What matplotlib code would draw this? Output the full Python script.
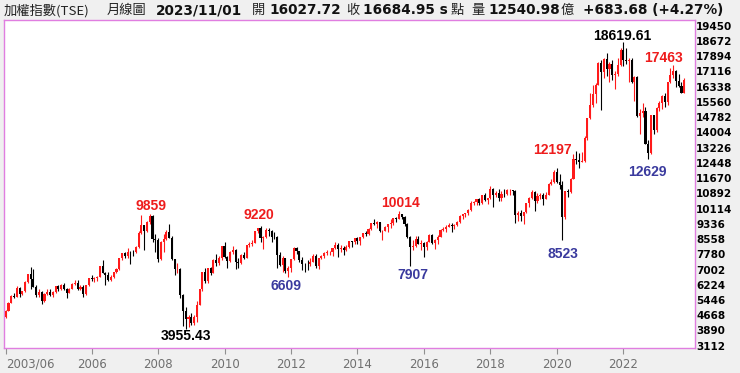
import numpy as np
import pandas as pd
import matplotlib
matplotlib.use("Agg")
import matplotlib.pyplot as plt

# ── monthly candles, 2003/06 .. 2023/11 ─────────────────────────────────
months = pd.period_range("2003-06", "2023-11", freq="M")

opens = [
    4555, 4872, 5318, 5650, 5611, 6045, 5771,  # 2003
    5890, 6375, 6750, 6522, 6117, 5710, 5840, 5420, 5765, 5845, 5705, 5844,  # 2004
    6140, 5994, 6207, 6006, 5819, 6012, 6241, 6312, 6033, 6118, 5764, 6203,  # 2005
    6548, 6532, 6561, 6613, 7171, 6846, 6705, 6455, 6612, 6884, 7021, 7567,  # 2006
    7823, 7699, 7901, 7884, 7875, 8145, 8883, 9287, 8982, 9411, 9711, 8586,  # 2007
    8506, 7521, 8412, 8572, 8920, 8619, 7523, 7024, 7046, 5719, 4870, 4460,  # 2008
    4591, 4248, 4557, 5210, 5992, 6890, 6432, 7078, 6825, 7509, 7340, 7582,  # 2009
    8188, 7640, 7436, 7920, 8004, 7374, 7329, 7760, 7616, 8238, 8287, 8372,  # 2010
    8973, 9145, 8600, 8683, 9007, 8989, 8652, 8644, 7741, 7225, 7588, 6904,  # 2011
    7072, 7517, 8121, 7933, 7501, 7301, 7296, 7270, 7397, 7715, 7166, 7580,  # 2012
    7700, 7850, 7907, 7919, 8093, 8254, 8062, 8108, 8022, 8173, 8450, 8407,  # 2013
    8612, 8462, 8640, 8849, 8791, 9075, 9393, 9315, 9436, 8966, 8974, 9187,  # 2014
    9307, 9361, 9622, 9586, 9820, 9701, 9323, 8665, 8174, 8181, 8554, 8320,  # 2015
    8338, 8145, 8411, 8744, 8377, 8535, 8667, 9009, 9069, 9166, 9290, 9240,  # 2016
    9254, 9448, 9750, 9812, 9872, 10040, 10395, 10427, 10585, 10384, 10794, 10560,  # 2017
    10643, 11103, 10815, 10919, 10657, 10875, 10837, 11057, 11064, 10997, 9802, 9888,  # 2018
    9727, 9932, 10389, 10641, 10968, 10498, 10731, 10824, 10618, 10830, 11358, 11489,  # 2019
    11997, 11495, 11292, 9708, 10992, 10942, 11621, 12665, 12592, 12516, 12546, 13722,  # 2020
    14732, 15410, 15953, 16431, 17567, 17068, 17755, 17247, 17490, 16935, 16987, 17428,  # 2021
    18219, 17674, 17652, 17693, 16592, 16807, 14826, 15000, 15095, 13425, 12950, 14880,  # 2022
    14138, 15265, 15504, 15868, 15579, 16579, 16916, 17145, 16635, 16353, 16028,  # 2023
]
highs = [
    4950, 5330, 5680, 5800, 6182, 6100, 5900,
    6400, 6750, 7135, 7034, 6190, 6000, 5900, 5800, 6000, 6000, 5900, 6150,
    6200, 6250, 6300, 6050, 6050, 6300, 6480, 6450, 6200, 6200, 6230, 6580,
    6740, 6640, 6650, 7200, 7474, 6900, 6900, 6700, 6900, 7100, 7600, 7850,
    7900, 8100, 7950, 8000, 8200, 8950, 9807, 9300, 9500, 9859, 9800, 8800,
    8600, 8450, 8800, 9000, 9309, 8700, 7550, 7350, 7100, 5750, 5100, 4700,
    4800, 4700, 5400, 6000, 6900, 7084, 7100, 7150, 7550, 7800, 7700, 8200,
    8395, 7700, 7950, 8190, 8050, 7600, 7800, 7900, 8250, 8400, 8500, 8990,
    9145, 9220, 8700, 9100, 9100, 9000, 8900, 8700, 7900, 7700, 7600, 7200,
    7550, 8170, 8170, 7950, 7650, 7350, 7500, 7600, 7800, 7800, 7600, 7750,
    7900, 8000, 7950, 8100, 8400, 8350, 8250, 8200, 8250, 8450, 8450, 8620,
    8650, 8650, 8850, 8950, 9100, 9400, 9593, 9500, 9450, 9000, 9200, 9300,
    9600, 9650, 9700, 10014, 9850, 9750, 9400, 8700, 8500, 8700, 8700, 8500,
    8400, 8450, 8800, 8800, 8550, 8750, 9050, 9150, 9250, 9400, 9400, 9350,
    9500, 9800, 9850, 9900, 10100, 10500, 10500, 10600, 10650, 10800, 10900, 10650,
    11270, 11150, 11000, 11100, 11000, 11100, 11100, 11100, 11080, 11050, 10000, 10050,
    9950, 10400, 10700, 11050, 11000, 10900, 10900, 10900, 10950, 11400, 11600, 12100,
    12197, 11900, 11500, 11000, 11100, 11700, 12900, 13031, 12950, 13000, 13800, 14760,
    16000, 16400, 16500, 17600, 17700, 17800, 18034, 17600, 17700, 17150, 17800, 18300,
    18620, 18300, 17800, 17800, 16900, 16900, 15200, 15500, 15300, 13600, 14900, 14900,
    15300, 15600, 15900, 16000, 16600, 17300, 17463, 17200, 17000, 16600, 16800,
]
lows = [
    4530, 4860, 5300, 5530, 5600, 5600, 5700,
    5880, 6300, 6020, 6110, 5600, 5580, 5255, 5320, 5700, 5650, 5600, 5800,
    5900, 5950, 5980, 5565, 5780, 6000, 6200, 5950, 5950, 5618, 5700, 6150,
    6400, 6380, 6420, 6600, 6800, 6230, 6400, 6400, 6550, 6850, 7000, 7500,
    7570, 7600, 7300, 7700, 7850, 8100, 8800, 7987, 8900, 9350, 8400, 7900,
    7384, 7500, 7900, 8500, 8600, 7500, 6710, 6800, 5530, 4110, 3955, 4089,
    4150, 4164, 4300, 5200, 5900, 6300, 6300, 6700, 6800, 7200, 7250, 7500,
    7600, 7080, 7400, 7800, 7032, 7100, 7300, 7550, 7600, 8150, 8200, 8350,
    8850, 8400, 8070, 8600, 8700, 8400, 8550, 7100, 7200, 6900, 6800, 6609,
    6900, 7500, 7800, 7400, 7000, 6857, 7000, 7200, 7400, 7100, 7050, 7550,
    7600, 7750, 7750, 7700, 8050, 7640, 7900, 7750, 7950, 8100, 8150, 8300,
    8300, 8250, 8600, 8700, 8750, 9000, 9300, 9100, 8900, 8501, 8950, 8900,
    9100, 9300, 9450, 9580, 9600, 9200, 8600, 7203, 8000, 8150, 8300, 7990,
    7627, 8000, 8400, 8300, 8050, 8300, 8650, 8950, 8900, 9150, 8900, 9050,
    9200, 9400, 9600, 9700, 9800, 10000, 10300, 10300, 10300, 10370, 10500, 10350,
    10600, 10190, 10700, 10500, 10500, 10700, 10800, 10800, 10800, 9400, 9500, 9500,
    9319, 9900, 10200, 10600, 10000, 10400, 10600, 10300, 10600, 10800, 11300, 11400,
    11400, 11100, 8523, 9600, 10700, 10900, 11600, 12400, 12200, 12500, 12500, 13600,
    14700, 15300, 15500, 16400, 15160, 16800, 16900, 16600, 16700, 16200, 16900, 17400,
    17400, 17500, 16600, 16500, 15616, 14800, 13928, 14800, 13400, 12629, 12900, 13900,
    14000, 15100, 15200, 15300, 15400, 16500, 16800, 16300, 16300, 16000, 16000,
]
closes = [
    4872, 5318, 5650, 5611, 6045, 5771, 5890,
    6375, 6750, 6522, 6117, 5710, 5840, 5420, 5765, 5845, 5705, 5844, 6140,
    5994, 6207, 6006, 5819, 6012, 6241, 6312, 6033, 6118, 5764, 6203, 6548,
    6532, 6561, 6613, 7171, 6846, 6705, 6455, 6612, 6884, 7021, 7567, 7823,
    7699, 7901, 7884, 7875, 8145, 8883, 9287, 8982, 9411, 9711, 8586, 8506,
    7521, 8412, 8572, 8920, 8619, 7523, 7024, 7046, 5719, 4870, 4460, 4591,
    4248, 4557, 5210, 5992, 6890, 6432, 7078, 6825, 7509, 7340, 7582, 8188,
    7640, 7436, 7920, 8004, 7374, 7329, 7760, 7616, 8238, 8287, 8372, 8973,
    9145, 8600, 8683, 9007, 8989, 8652, 8644, 7741, 7225, 7588, 6904, 7072,
    7517, 8121, 7933, 7501, 7301, 7296, 7270, 7397, 7715, 7166, 7580, 7700,
    7850, 7907, 7919, 8093, 8254, 8062, 8108, 8022, 8173, 8450, 8407, 8612,
    8462, 8640, 8849, 8791, 9075, 9393, 9315, 9436, 8966, 8974, 9187, 9307,
    9361, 9622, 9586, 9820, 9701, 9323, 8665, 8174, 8181, 8554, 8320, 8338,
    8145, 8411, 8744, 8377, 8535, 8667, 9009, 9069, 9166, 9290, 9240, 9254,
    9448, 9750, 9812, 9872, 10040, 10395, 10427, 10585, 10384, 10794, 10560, 10643,
    11103, 10815, 10919, 10657, 10875, 10837, 11057, 11064, 10997, 9802, 9888, 9727,
    9932, 10389, 10641, 10968, 10498, 10731, 10824, 10618, 10830, 11358, 11489, 11997,
    11495, 11292, 9708, 10992, 10942, 11621, 12665, 12592, 12516, 12546, 13722, 14732,
    15410, 15953, 16431, 17567, 17068, 17755, 17247, 17490, 16935, 16987, 17428, 18219,
    17674, 17652, 17693, 16592, 16807, 14826, 15000, 15095, 13425, 12950, 14880, 14138,
    15265, 15504, 15868, 15579, 16579, 16916, 17145, 16635, 16353, 16001, 16685,
]

# ── axis labels ─────────────────────────────────────────────────────────
y_ticks = [19450, 18672, 17894, 17116, 16338, 15560, 14782, 14004, 13226, 12448,
           11670, 10892, 10114, 9336, 8558, 7780, 7002, 6224, 5446, 4668, 3890, 3112]
x_tick_months = ["2003-06", "2006-01", "2008-01", "2010-01", "2012-01", "2014-01",
                 "2016-01", "2018-01", "2020-01", "2022-01"]
x_tick_labels = ["2003/06", "2006", "2008", "2010", "2012", "2014",
                 "2016", "2018", "2020", "2022"]

# ── marked highs / lows ─────────────────────────────────────────────────
ann_months = ["2007-10", "2008-11", "2011-02", "2011-12", "2015-04", "2015-08",
              "2020-01", "2020-03", "2022-01", "2022-10", "2023-07"]
ann_texts = ["9859", "3955.43", "9220", "6609", "10014", "7907",
             "12197", "8523", "18619.61", "12629", "17463"]
ann_is_high = [True, False, True, False, True, False, True, False, True, False, True]

# ── header text ─────────────────────────────────────────────────────────
header = [
    ("加權指數(TSE)", "cjk", 3.5),
    ("月線圖", "cjk", 107),
    ("2023/11/01", "num", 155.5),
    ("開", "cjk", 252),
    ("16027.72", "num", 269),
    ("收", "cjk", 346.5),
    ("16684.95 s", "num", 363),
    ("點", "cjk", 450.5),
    ("量", "cjk", 471.5),
    ("12540.98", "num", 488),
    ("億", "cjk", 561),
    ("+683.68 (+4.27%)", "num", 583),
]

W, H = 740, 373
RED = "#ff1a1a"
ANN_RED = "#ee1c1c"
BLUE = "#3a3a9e"
FRAME = "#e07ee0"


def main() -> None:
    o = np.array(opens, float)
    hi = np.array(highs, float)
    lo = np.array(lows, float)
    c = np.array(closes, float)
    x = np.arange(len(months))

    fig = plt.figure(figsize=(W / 100, H / 100), dpi=100, facecolor="#f0f0f0")
    ax = fig.add_axes([3.5 / W, 1 - 348 / H, 691 / W, 328 / H])
    ax.set_facecolor("white")

    up = c >= o
    col = np.where(up, RED, "black")
    ax.vlines(x, lo, hi, colors=col, linewidth=0.8, zorder=2)
    ax.bar(x, np.abs(c - o), bottom=np.minimum(o, c), width=0.75,
           color=col, linewidth=0, zorder=3)

    ax.set_xlim(-0.8, 248.7)
    ax.set_ylim(2996, 19741)

    # right-hand price scale
    ax.yaxis.tick_right()
    ax.set_yticks(y_ticks)
    ax.set_yticklabels([str(v) for v in y_ticks], fontsize=7.5,
                       fontweight="bold", family="DejaVu Sans")
    ax.tick_params(axis="y", length=0, pad=1.2)

    # bottom time scale
    month_idx = {str(m): i for i, m in enumerate(months)}
    ax.set_xticks([month_idx[m] for m in x_tick_months])
    ax.set_xticklabels(x_tick_labels, fontsize=8.5, color="#707070")
    ax.get_xticklabels()[0].set_horizontalalignment("left")
    ax.tick_params(axis="x", length=4, width=0.8, color="#909090", pad=3)

    for s in ax.spines.values():
        s.set_color(FRAME)
        s.set_linewidth(1.0)

    # annotations
    offsets = [(1, 7.3), (0, -6.3), (-1.8, 11), (-2, -9), (2, 7.2), (3, -9.4),
               (-4, 17.8), (1, -14), (-1, 6.2), (-0.6, -12.4), (-10, 6.8)]
    for m, t, is_hi, off in zip(ann_months, ann_texts, ann_is_high, offsets):
        i = month_idx[m]
        yv = hi[i] if is_hi else lo[i]
        if "." in t:
            color = "black"
        else:
            color = ANN_RED if is_hi else BLUE
        ax.annotate(t, (i, yv), xytext=off, textcoords="offset pixels",
                    ha="center", va="center", fontsize=10, fontweight="bold",
                    family="Liberation Sans", color=color, zorder=5)

    # header line
    for txt, kind, px in header:
        if kind == "cjk":
            fig.text(px / W, 1 - 10.5 / H, txt, ha="left", va="center",
                     fontsize=9.5, color="#222222",
                     family=["Noto Sans CJK TC", "DejaVu Sans"])
        else:
            fig.text(px / W, 1 - 10.5 / H, txt, ha="left", va="center",
                     fontsize=9.8, fontweight="bold", color="#111111",
                     family="DejaVu Sans")

    fig.savefig("out.png", dpi=100, facecolor=fig.get_facecolor())


if __name__ == "__main__":
    main()
